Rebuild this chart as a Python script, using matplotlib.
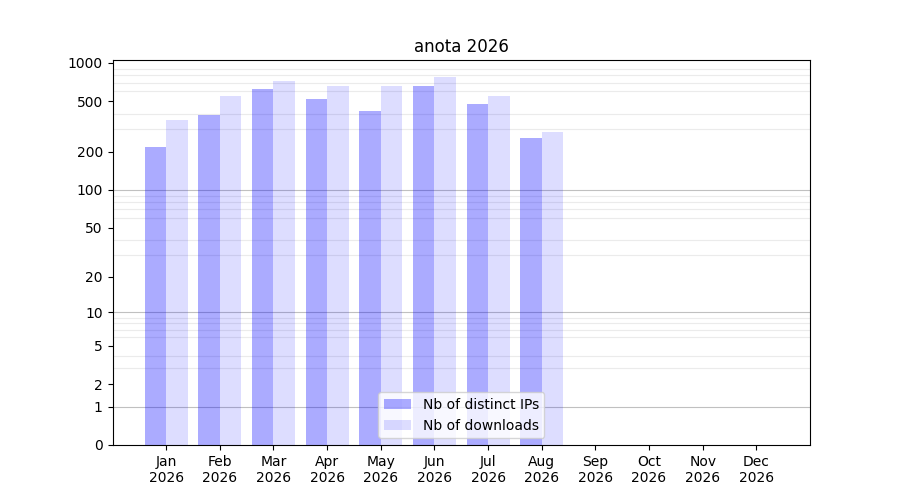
import numpy as np
import matplotlib
matplotlib.use('Agg')
import matplotlib.pyplot as plt

title = 'anota 2026'
months = ['Jan', 'Feb', 'Mar', 'Apr', 'May', 'Jun',
          'Jul', 'Aug', 'Sep', 'Oct', 'Nov', 'Dec']
year = '2026'
distinct_ips = [218, 389, 623, 520, 418, 658, 475, 256]
downloads = [355, 549, 721, 658, 658, 775, 549, 285]
ytick_values = [0, 1, 2, 5, 10, 20, 50, 100, 200, 500, 1000]


def fwd(v):
    return np.log10(1 + np.clip(v, 0, None))


def inv(v):
    return 10 ** v - 1


fig, ax = plt.subplots(figsize=(9, 5), dpi=100)
ax.set_yscale('function', functions=(fwd, inv))

x_ips = np.arange(len(distinct_ips))
x_dl = np.arange(len(downloads))
ax.bar(x_ips, distinct_ips, width=-0.4, align='edge', color='blue', alpha=0.33,
       label='Nb of distinct IPs')
ax.bar(x_dl, downloads, width=0.4, align='edge', color='blue', alpha=0.135,
       label='Nb of downloads')

# grille : lignes claires aux 2..9 x 10^k, plus foncées aux puissances de 10
minor = [m * 10 ** k for k in range(3) for m in range(2, 10)] + [1000]
ax.set_yticks(minor, minor=True)
ax.tick_params(axis='y', which='minor', length=0)
ax.grid(True, which='minor', axis='y', color='#ebebeb', linewidth=0.8)
for dec in [1, 10, 100]:
    ax.axhline(dec, color='#c0c0c0', linewidth=0.8, zorder=0.5)
ax.set_axisbelow(True)

ax.set_yticks(ytick_values)
ax.set_yticklabels([str(v) for v in ytick_values])
ax.set_ylim(0, 1055)

ax.set_xticks(np.arange(len(months)))
ax.set_xticklabels([f'{m}\n{year}' for m in months])
ax.set_xlim(-1, 12)

ax.set_title(title)
ax.legend(loc='lower center')

plt.savefig('out.png')
plt.close()
